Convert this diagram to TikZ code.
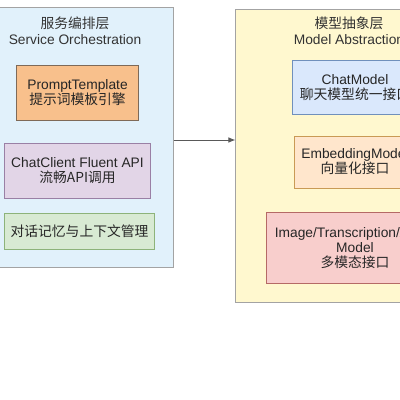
\documentclass[tikz,border=0pt]{standalone}
\usepackage{fontspec}
\setmainfont{Liberation Sans}
\newfontfamily\cjk{Noto Sans CJK SC}
\usetikzlibrary{arrows.meta}

\definecolor{orchfill}{HTML}{E1F1FB}
\definecolor{abstfill}{HTML}{FFF8CF}
\definecolor{layerline}{HTML}{A3A3A3}
\definecolor{promptfill}{HTML}{F8C08C}
\definecolor{promptline}{HTML}{7E6A58}
\definecolor{clientfill}{HTML}{E2D5E7}
\definecolor{clientline}{HTML}{9A80A5}
\definecolor{memfill}{HTML}{D8EAD3}
\definecolor{memline}{HTML}{8DB37A}
\definecolor{chatfill}{HTML}{DAE8FC}
\definecolor{chatline}{HTML}{7090BC}
\definecolor{embfill}{HTML}{FFE6CC}
\definecolor{embline}{HTML}{C99A55}
\definecolor{mmfill}{HTML}{F8CECC}
\definecolor{mmline}{HTML}{B56A66}

\tikzset{
  layer/.style={draw=layerline,line width=0.7pt,inner sep=0pt},
  module/.style={draw,line width=0.7pt,inner sep=0pt,align=center,
    font=\fontsize{9.8}{10.7}\selectfont,text=black!85},
  title/.style={align=center,font=\fontsize{9.8}{11.2}\selectfont,text=black!80},
  flow/.style={draw=black!65,line width=0.7pt,-{Latex[length=5pt,width=4pt]}}
}

\begin{document}
\begin{tikzpicture}[x=0.025cm,y=-0.025cm]
			
			\clip (0,0) rectangle (400,400);
			\fill[white] (0,0) rectangle (400,400);
			
			% service orchestration layer
			\node[layer,fill=orchfill,minimum width=4.9cm,minimum height=6.475cm] (orch) at (75,137.5) {};
			\node[title] (orchT) at (75,30.5) {{\cjk 服务编排层}\\Service Orchestration};
			
			\node[module,fill=promptfill,draw=promptline,minimum width=3.025cm,minimum height=1.35cm] (prompt) at (77.5,93) {PromptTemplate\\{\cjk 提示词模板引擎}};
			\node[module,fill=clientfill,draw=clientline,minimum width=3.625cm,minimum height=1.375cm] (client) at (77.5,170.5) {ChatClient Fluent API\\{\cjk 流畅API调用}};
			\node[module,fill=memfill,draw=memline,minimum width=3.725cm,minimum height=0.9cm] (memory) at (79.5,231) {{\cjk 对话记忆与上下文管理}};
			
			% model abstraction layer
			\node[layer,fill=abstfill,minimum width=5.65cm,minimum height=7.3cm] (abst) at (349,156) {};
			\node[title] (abstT) at (349,31) {{\cjk 模型抽象层}\\Model Abstraction};
			
			\node[module,fill=chatfill,draw=chatline,minimum width=3.1cm,minimum height=1.325cm] (chat) at (355,87.5) {ChatModel\\{\cjk 聊天模型统一接口}};
			\node[module,fill=embfill,draw=embline,minimum width=3.0cm,minimum height=1.3cm] (embed) at (355,162) {EmbeddingModel\\{\cjk 向量化接口}};
			\node[module,fill=mmfill,draw=mmline,minimum width=4.4cm,minimum height=1.75cm] (multi) at (355,248) {Image/Transcription/Audio\\Model\\{\cjk 多模态接口}};
			
			\coordinate (tail) at (orch.east |- 0,140);
			\draw[flow] (tail) -- (tail -| abst.west);
			
		\end{tikzpicture}
\end{document}
